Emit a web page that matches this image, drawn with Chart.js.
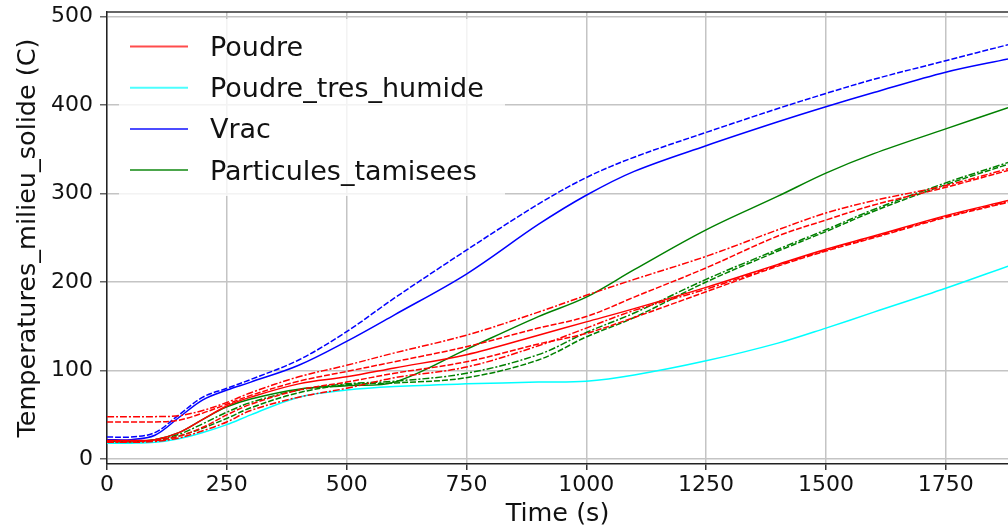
<!DOCTYPE html>
<html>
<head>
<meta charset="utf-8">
<script src="https://cdn.jsdelivr.net/npm/chart.js@4"></script>
<style>
  html, body { margin: 0; padding: 0; background: #fff; overflow: hidden; }
</style>
</head>
<body>
<canvas id="chart" width="1008" height="531"></canvas>
<script>
// sample times (s) shared by every curve
const timeS = [0, 50, 100, 150, 200, 250, 300, 400, 500, 600, 750, 900, 1000, 1100, 1250, 1400, 1500, 1600, 1750, 1880];

// Poudre (red), five runs
const poudreA = [48, 48, 48, 49, 55, 64, 75, 93, 106, 120, 140, 166, 185, 203, 229, 259, 278, 292, 309, 328];
const poudreB = [42, 42, 42, 44, 52, 62, 72, 88, 99, 110, 127, 148, 161, 183, 216, 252, 270, 287, 307, 326];
const poudreC = [21, 21, 22, 30, 45, 60, 70, 85, 93, 103, 118, 140, 155, 170, 194, 220, 237, 252, 275, 292];
const poudreD = [20, 20, 21, 26, 36, 50, 62, 78, 87, 97, 110, 130, 142, 160, 189, 218, 235, 250, 273, 290];
const poudreE = [19, 19, 20, 24, 32, 42, 55, 70, 80, 92, 104, 128, 148, 168, 192, 219, 236, 251, 274, 291];

// Poudre_tres_humide (cyan)
const humide = [18, 18, 19, 23, 30, 39, 50, 70, 78, 82, 85, 87, 88, 95, 111, 131, 148, 166, 193, 218];

// Vrac (blue), two runs
const vracA = [25, 25, 30, 50, 70, 80, 90, 112, 144, 182, 236, 288, 318, 341, 369, 396, 413, 429, 450, 468];
const vracB = [22, 22, 27, 47, 67, 78, 87, 106, 133, 163, 209, 265, 298, 325, 354, 381, 398, 414, 437, 452];

// Particules_tamisees (green), three runs
const tamA = [20, 20, 22, 30, 45, 59, 68, 79, 83, 87, 124, 161, 183, 214, 259, 297, 323, 345, 373, 397];
const tamB = [19, 19, 21, 26, 35, 46, 58, 75, 84, 86, 92, 112, 138, 160, 200, 235, 257, 280, 310, 333];
const tamC = [20, 20, 22, 28, 40, 53, 64, 78, 85, 88, 97, 118, 143, 165, 203, 237, 259, 282, 312, 335];

const xTicks = [0, 250, 500, 750, 1000, 1250, 1500, 1750];
const yTicks = [0, 100, 200, 300, 400, 500];

const groupNames = ['Poudre', 'Poudre_tres_humide', 'Vrac', 'Particules_tamisees'];
const groupColors = ['#ff0000', '#00ffff', '#0000ff', '#008000'];
const legendColors = ['rgba(255,0,0,0.7)', 'rgba(0,255,255,0.7)', 'rgba(0,0,255,0.7)', 'rgba(0,128,0,0.7)'];

const DASH = [6, 2];
const DASHDOT = [7, 2, 2, 2];

const runs = [
  { group: 0, values: poudreA, dash: DASHDOT },
  { group: 0, values: poudreB, dash: DASH },
  { group: 0, values: poudreC, dash: [] },
  { group: 0, values: poudreD, dash: DASH },
  { group: 0, values: poudreE, dash: DASHDOT },
  { group: 1, values: humide, dash: [] },
  { group: 2, values: vracA, dash: DASH },
  { group: 2, values: vracB, dash: [] },
  { group: 3, values: tamA, dash: [] },
  { group: 3, values: tamB, dash: DASH },
  { group: 3, values: tamC, dash: DASHDOT }
];

const FONT = '"DejaVu Sans", sans-serif';

const datasets = runs.map(r => ({
  label: groupNames[r.group],
  data: timeS.map((t, i) => ({ x: t, y: r.values[i] })),
  borderColor: groupColors[r.group],
  borderDash: r.dash,
  borderWidth: 1.5,
  pointRadius: 0,
  tension: 0.35,
  fill: false
}));

// top frame line + matplotlib-style legend box
const framePlugin = {
  id: 'frame',
  afterDatasetsDraw(chart) {
    const { ctx, chartArea } = chart;
    ctx.save();
    ctx.strokeStyle = '#333';
    ctx.lineWidth = 1.5;
    ctx.beginPath();
    ctx.moveTo(chartArea.left, chartArea.top);
    ctx.lineTo(chartArea.right, chartArea.top);
    ctx.stroke();

    ctx.fillStyle = 'rgba(255,255,255,0.8)';
    ctx.fillRect(119, 19, 386, 177);

    ctx.font = '27px ' + FONT;
    ctx.textBaseline = 'alphabetic';
    groupNames.forEach((name, i) => {
      const y = 46.5 + i * 41.2;
      ctx.strokeStyle = legendColors[i];
      ctx.lineWidth = 2;
      ctx.beginPath();
      ctx.moveTo(130, y);
      ctx.lineTo(188, y);
      ctx.stroke();
      ctx.fillStyle = '#111';
      ctx.fillText(name, 210, y + 9.5);
    });
    ctx.restore();
  }
};

new Chart(document.getElementById('chart'), {
  type: 'line',
  data: { datasets },
  plugins: [framePlugin],
  options: {
    responsive: false,
    animation: false,
    layout: { padding: 0 },
    plugins: { legend: { display: false }, tooltip: { enabled: false } },
    scales: {
      x: {
        type: 'linear',
        min: 0,
        max: 1880,
        afterBuildTicks: s => { s.ticks = xTicks.map(v => ({ value: v })); },
        afterFit: s => { s.height = 67; s.paddingLeft = 0; s.paddingRight = 0; },
        ticks: {
          color: '#111', font: { family: FONT, size: 22 }, padding: 2, maxRotation: 0,
          callback: v => String(v)
        },
        grid: { color: '#c4c4c4', lineWidth: 1.5, tickLength: 6, tickColor: '#333', tickWidth: 1.5 },
        border: { color: '#222', width: 1.5 },
        title: {
          display: true, text: 'Time (s)', color: '#111',
          font: { family: FONT, size: 25.5 }, padding: { top: 0, bottom: 1 }
        }
      },
      y: {
        type: 'linear',
        min: -5.5,
        max: 505,
        afterBuildTicks: s => { s.ticks = yTicks.map(v => ({ value: v })); },
        afterFit: s => { s.width = 107; s.paddingTop = 12; s.paddingBottom = 0; },
        ticks: {
          color: '#111', font: { family: FONT, size: 22 }, padding: 7,
          callback: v => String(v)
        },
        grid: { color: '#c4c4c4', lineWidth: 1.5, tickLength: 7, tickColor: '#666', tickWidth: 1.5 },
        border: { color: '#222', width: 1.5 },
        title: {
          display: true, text: 'Temperatures_milieu_solide (C)', color: '#111',
          font: { family: FONT, size: 25.5 }, padding: { top: 13, bottom: 0 }
        }
      }
    }
  }
});
</script>
</body>
</html>
